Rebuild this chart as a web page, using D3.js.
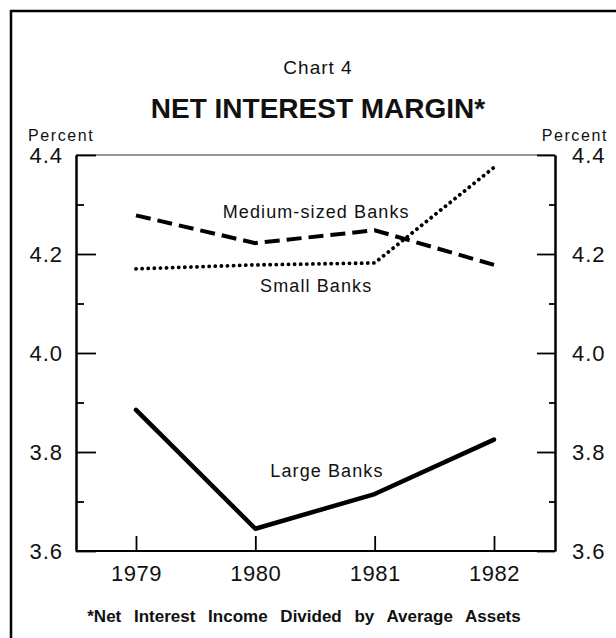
<!DOCTYPE html>
<html>
<head>
<meta charset="utf-8">
<script src="https://cdn.jsdelivr.net/npm/d3@7"></script>
<style>
  body { margin: 0; background: #fff; }
  svg text { font-family: "Liberation Sans", Arial, sans-serif; fill: #111; }
</style>
</head>
<body>
<div id="chart"></div>
<script>
// Chart 4 - net interest margin by bank size
const years = [1979, 1980, 1981, 1982];
const largeBanks = [3.885, 3.645, 3.715, 3.825];
const mediumBanks = [4.278, 4.222, 4.248, 4.178];
const smallBanks = [4.170, 4.178, 4.182, 4.375];
const majorTicks = [3.6, 3.8, 4.0, 4.2, 4.4];
const minorTicks = [3.7, 3.9, 4.1, 4.3];
const seriesNames = ["Large Banks", "Medium-sized Banks", "Small Banks"];

const W = 616, H = 638;
const plot = { left: 76, right: 555, top: 155, bottom: 551 };

const svg = d3.select("#chart").append("svg")
    .attr("width", W)
    .attr("height", H);

// frame (only top and left edges visible in the scan)
svg.append("path")
    .attr("d", `M11,${H} V11 H${W}`)
    .attr("fill", "none")
    .attr("stroke", "#000")
    .attr("stroke-width", 2.5);

const x = d3.scaleLinear()
    .domain([1979, 1982])
    .range([plot.left + 60, plot.right - 61]);
const y = d3.scaleLinear()
    .domain([3.6, 4.4])
    .range([plot.bottom, plot.top]);

// titles
svg.append("text").attr("x", 318).attr("y", 74)
    .attr("text-anchor", "middle").style("font-size", "19px")
    .style("letter-spacing", "1px")
    .text("Chart 4");
svg.append("text").attr("x", 318).attr("y", 118)
    .attr("text-anchor", "middle").style("font-size", "28px").style("font-weight", "bold")
    .text("NET INTEREST MARGIN*");
svg.append("text").attr("x", 28).attr("y", 141)
    .style("font-size", "16px").style("letter-spacing", "1.6px").text("Percent");
svg.append("text").attr("x", 608).attr("y", 141)
    .attr("text-anchor", "end").style("font-size", "16px")
    .style("letter-spacing", "1.6px").text("Percent");

// plot box: thin top line, heavier left/right/bottom
svg.append("line")
    .attr("x1", plot.left).attr("x2", plot.right)
    .attr("y1", plot.top).attr("y2", plot.top)
    .attr("stroke", "#333").attr("stroke-width", 1.2);

function styleAxis(g) {
    g.select(".domain").attr("stroke", "#000").attr("stroke-width", 2);
    g.selectAll(".tick line").attr("stroke", "#000").attr("stroke-width", 1.8);
    g.selectAll("text").style("font-size", "22px").attr("fill", "#111")
        .style("letter-spacing", "1px")
        .style("font-family", "'Liberation Sans', Arial, sans-serif");
}

// left axis
svg.append("g")
    .attr("transform", `translate(${plot.left},0)`)
    .call(d3.axisLeft(y).tickValues(majorTicks).tickFormat(d3.format(".1f"))
        .tickSizeInner(-20).tickSizeOuter(0).tickPadding(13))
    .call(styleAxis);
svg.append("g")
    .attr("transform", `translate(${plot.left},0)`)
    .call(d3.axisLeft(y).tickValues(minorTicks).tickFormat("")
        .tickSizeInner(-8).tickSizeOuter(0))
    .call(styleAxis);

// right axis
svg.append("g")
    .attr("transform", `translate(${plot.right},0)`)
    .call(d3.axisRight(y).tickValues(majorTicks).tickFormat(d3.format(".1f"))
        .tickSizeInner(-18).tickSizeOuter(0).tickPadding(17))
    .call(styleAxis);
svg.append("g")
    .attr("transform", `translate(${plot.right},0)`)
    .call(d3.axisRight(y).tickValues(minorTicks).tickFormat("")
        .tickSizeInner(-6).tickSizeOuter(0))
    .call(styleAxis);

// bottom axis
const xAxis = svg.append("g")
    .attr("transform", `translate(0,${plot.bottom})`)
    .call(d3.axisBottom(x).tickValues(years).tickFormat(d3.format("d"))
        .tickSizeInner(-15).tickSizeOuter(0).tickPadding(14))
    .call(styleAxis);
xAxis.select(".domain").attr("d", `M${plot.left},0H${plot.right}`);
xAxis.selectAll("text").style("letter-spacing", "0.5px");

// series lines
const line = d3.line().x((d, i) => x(years[i])).y(d => y(d));

svg.append("path").datum(largeBanks)
    .attr("d", line).attr("fill", "none")
    .attr("stroke", "#000").attr("stroke-width", 4.5)
    .attr("stroke-linejoin", "round").attr("stroke-linecap", "round");

svg.append("path").datum(mediumBanks)
    .attr("d", line).attr("fill", "none")
    .attr("stroke", "#000").attr("stroke-width", 4)
    .attr("stroke-dasharray", "15,7");

svg.append("path").datum(smallBanks)
    .attr("d", line).attr("fill", "none")
    .attr("stroke", "#000").attr("stroke-width", 3.8)
    .attr("stroke-linecap", "round")
    .attr("stroke-dasharray", "0.1,6");

// line labels, anchored in data coordinates
const labelYear = [1980.6, 1980.51, 1980.51];
const labelValue = [3.749, 4.273, 4.123];
svg.selectAll(".series-label")
    .data(seriesNames)
    .enter().append("text")
    .attr("class", "series-label")
    .attr("x", (d, i) => x(labelYear[i]))
    .attr("y", (d, i) => y(labelValue[i]))
    .attr("text-anchor", "middle")
    .style("font-size", "18px")
    .style("letter-spacing", "1.1px")
    .text(d => d);

// footnote
svg.append("text").attr("x", 304).attr("y", 622)
    .attr("text-anchor", "middle")
    .style("font-size", "17px").style("font-weight", "bold")
    .style("word-spacing", "8px")
    .text("*Net Interest Income Divided by Average Assets");
</script>
</body>
</html>
